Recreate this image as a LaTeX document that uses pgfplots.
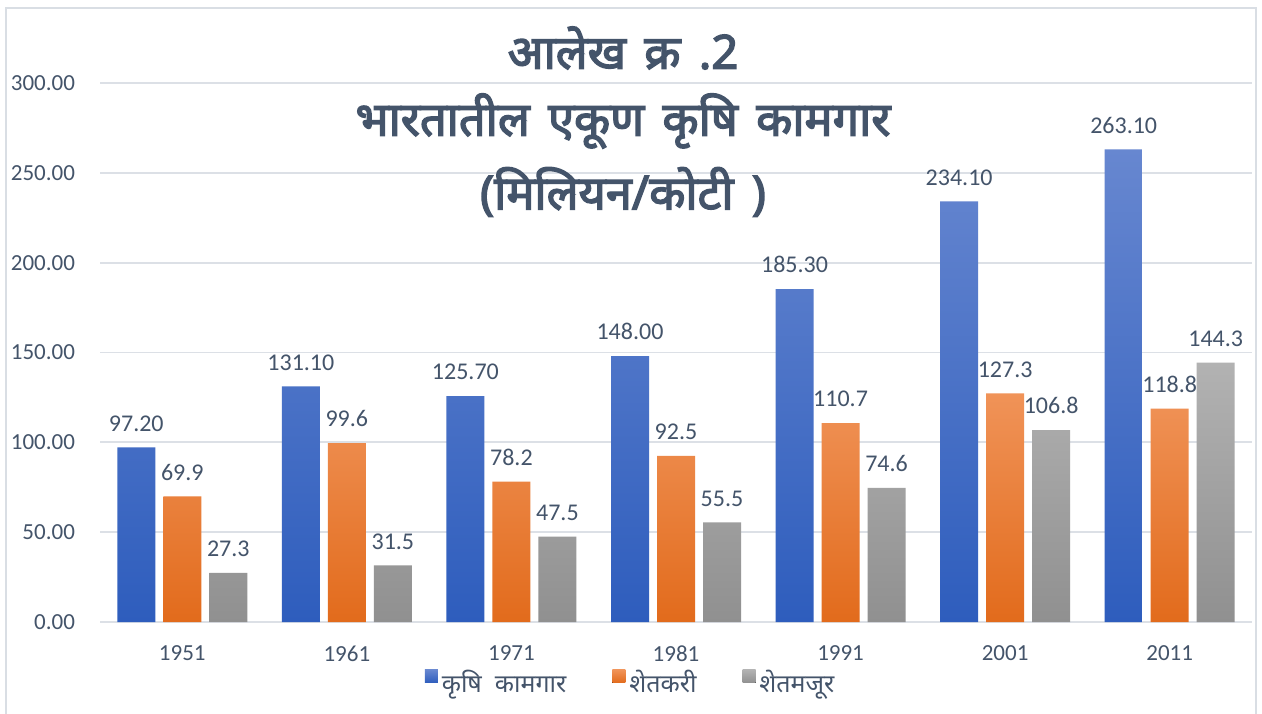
\documentclass[border=0pt]{standalone}
\usepackage{fontspec}
\setmainfont{Carlito}
\newfontfamily\deva[Script=Devanagari]{Noto Sans}
\newfontfamily\devab[Script=Devanagari, FakeBold=3, WordSpace=1.5]{Noto Sans}
\usepackage{pgfplots}
\pgfplotsset{compat=1.18}
\definecolor{txt}{HTML}{44546A}
\definecolor{gridc}{HTML}{DCE0E6}
\definecolor{bord}{HTML}{D9DEE4}
\definecolor{bluet}{HTML}{6787D0}
\definecolor{blueb}{HTML}{2E5DBD}
\definecolor{oranget}{HTML}{F09358}
\definecolor{orangeb}{HTML}{E26B1C}
\definecolor{grayt}{HTML}{B2B2B2}
\definecolor{grayb}{HTML}{909090}
\begin{document}
\begin{tikzpicture}
\useasboundingbox (0,0) rectangle (631pt,356.5pt);
\fill[white] (0,0) rectangle (631pt,356.5pt);
\draw[bord, line width=1pt] (3pt,-2pt) -- (3pt,352.5pt) -- (628pt,352.5pt) -- (628pt,-2pt);
\begin{axis}[
  at={(50pt,45.5pt)}, anchor=south west,
  scale only axis, width=576pt, height=269.5pt,
  xmin=-0.5, xmax=6.5, ymin=0, ymax=300,
  xtick={0,...,6},
  xticklabels={\mbox{1951},\mbox{1961},\mbox{1971},\mbox{1981},\mbox{1991},\mbox{2001},\mbox{2011}},
  ytick={0,50,...,300},
  yticklabel={\mbox{\pgfmathprintnumber[fixed,zerofill,precision=2,assume math mode=true]{\tick}}},
  ymajorgrids, grid style={gridc, line width=0.9pt},
  axis line style={draw=none},
  major tick length=0pt,
  tick label style={font=\fontsize{11.5}{13}\selectfont, text=txt},
  yticklabel style={xshift=-9pt},
  xticklabel style={yshift=-8.5pt},
  ybar=4pt, bar width=19pt,
  clip=false,
  legend style={at={(0.4615,-0.113)}, anchor=center, draw=none, fill=none,
     legend columns=3, font=\deva\fontsize{12.5}{14}\selectfont, text=txt,
     /tikz/every even column/.append style={column sep=21pt}},
  legend image code/.code={\fill[#1] (-1.5pt,0pt) rectangle (5pt,6.5pt);},
  every node near coord/.append style={font=\fontsize{12}{14}\selectfont, text=txt, yshift=4.5pt},
  /pgf/number format/assume math mode=true,
]
\addplot[draw=none, top color=bluet, bottom color=blueb,
  nodes near coords={\pgfmathprintnumber[fixed,zerofill,precision=2]{\pgfplotspointmeta}}]
  coordinates {(0,97.2) (1,131.1) (2,125.7) (3,148.0) (4,185.3) (5,234.1) (6,263.1)};
\addplot[draw=none, top color=oranget, bottom color=orangeb,
  nodes near coords={\pgfmathprintnumber[fixed,zerofill,precision=1]{\pgfplotspointmeta}}]
  coordinates {(0,69.9) (1,99.6) (2,78.2) (3,92.5) (4,110.7) (5,127.3) (6,118.8)};
\addplot[draw=none, top color=grayt, bottom color=grayb,
  nodes near coords={\pgfmathprintnumber[fixed,zerofill,precision=1]{\pgfplotspointmeta}}]
  coordinates {(0,27.3) (1,31.5) (2,47.5) (3,55.5) (4,74.6) (5,106.8) (6,144.3)};
\legend{कृषि\ \ कामगार, शेतकरी, शेतमजूर}
\end{axis}
\node[text=txt, font=\devab\fontsize{23.5}{26}\selectfont] at (311.5pt,332.5pt) {आलेख क्र .2};
\node[text=txt, font=\devab\fontsize{23.5}{26}\selectfont] at (311.5pt,296pt) {भारतातील एकूण कृषि कामगार};
\node[text=txt, font=\devab\fontsize{23.5}{26}\selectfont] at (311.5pt,260.5pt) {(मिलियन/कोटी )};
\end{tikzpicture}
\end{document}
